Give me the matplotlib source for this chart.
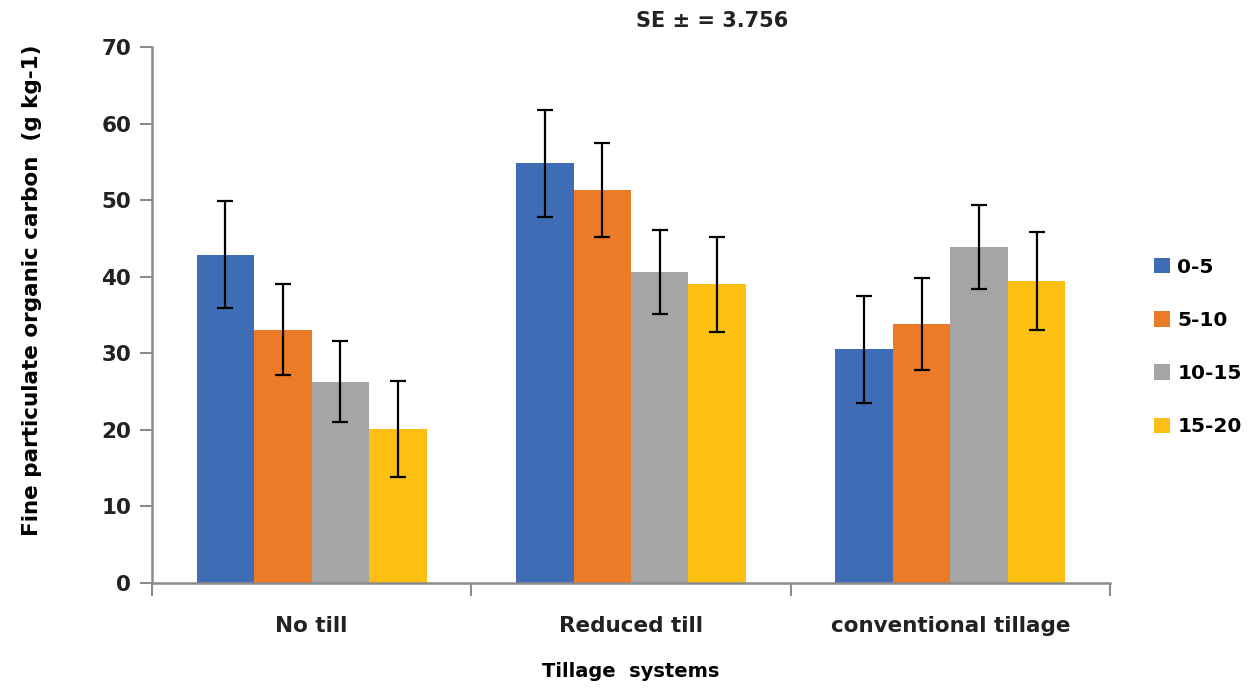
import numpy as np
import matplotlib
matplotlib.use('Agg')
import matplotlib.pyplot as plt
from matplotlib.patches import Patch

# 数据：从图上读取
systems = ['No till', 'Reduced till', 'conventional tillage']
depths = ['0-5', '5-10', '10-15', '15-20']
depth_0_5 = [42.9, 54.8, 30.5]
depth_5_10 = [33.1, 51.3, 33.8]
depth_10_15 = [26.3, 40.6, 43.9]
depth_15_20 = [20.1, 39.0, 39.5]
err_0_5 = [7.0, 7.0, 7.0]
err_5_10 = [6.0, 6.1, 6.0]
err_10_15 = [5.3, 5.5, 5.5]
err_15_20 = [6.3, 6.2, 6.4]
se_text = 'SE ± = 3.756'

colors = ['#3E6DB5', '#EB7B27', '#A5A5A5', '#FDBF12']
values = [depth_0_5, depth_5_10, depth_10_15, depth_15_20]
errors = [err_0_5, err_5_10, err_10_15, err_15_20]

plt.rcParams['font.family'] = ['DejaVu Sans']
fig = plt.figure(figsize=(12.5, 6.88), dpi=100)
ax = fig.add_axes([152/1250, 1-583/688, (1110-152)/1250, (583-47)/688])

x = np.arange(len(systems))
w = 0.18
for k, (vals, errs, c) in enumerate(zip(values, errors, colors)):
    pos = x + (k - 1.5) * w
    ax.bar(pos, vals, width=w, color=c, zorder=2)
    ax.errorbar(pos, vals, yerr=errs, fmt='none', ecolor='black',
                elinewidth=1.6, capsize=6, capthick=1.6, zorder=3)

ax.set_xlim(-0.5, 2.5)
ax.set_ylim(0, 70)
ax.set_yticks(range(0, 71, 10))
ax.set_xticks(x)
ax.set_xticklabels(systems, fontsize=15.5, fontweight='bold', color='#222222')
ax.tick_params(axis='x', length=0, pad=24)
ax.set_xticks([-0.5, 0.5, 1.5, 2.5], minor=True)
ax.tick_params(axis='x', which='minor', length=9, width=1.5, color='#8C8C8C')
ax.tick_params(axis='y', length=9, width=1.5, color='#8C8C8C', labelsize=15.5, pad=6)
for lab in ax.get_yticklabels():
    lab.set_fontweight('bold')
    lab.set_color('#222222')

for s in ['top', 'right']:
    ax.spines[s].set_visible(False)
for s in ['left', 'bottom']:
    ax.spines[s].set_color('#8C8C8C')
    ax.spines[s].set_linewidth(1.8)

ax.set_ylabel('Fine particulate organic carbon  (g kg-1)', fontsize=15.5,
              fontweight='bold')
ax.yaxis.set_label_coords(-0.115, 0.547)
ax.set_xlabel('Tillage  systems', fontsize=14, fontweight='bold')
ax.xaxis.set_label_coords(0.5, -0.148)

fig.text(712/1250, 1-21/688, se_text, fontsize=15, fontweight='bold',
         ha='center', va='center', color='#222222')

handles = [Patch(facecolor=c, label=d) for c, d in zip(colors, depths)]
fig.legend(handles=handles, loc='center left', bbox_to_anchor=(1136/1250, 1-347/688),
           frameon=False, handlelength=0.8, handleheight=0.8,
           labelspacing=1.7, handletextpad=0.35,
           prop={'weight': 'bold', 'size': 14.5})

plt.savefig('out.png', dpi=100)
plt.close()
